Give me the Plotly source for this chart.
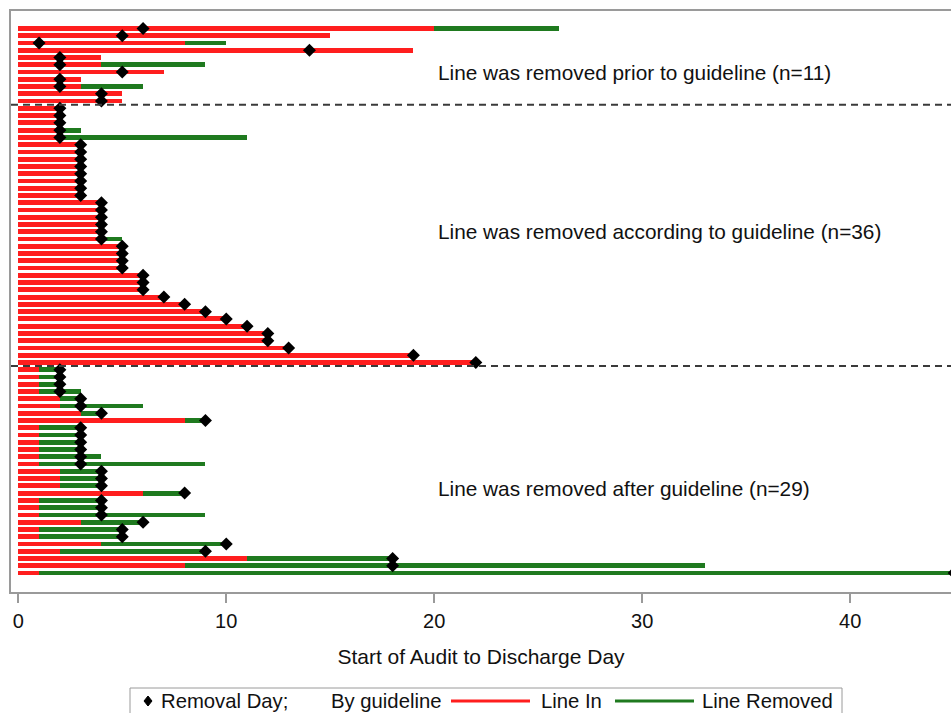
import plotly.graph_objects as go

# ---------------- data ----------------
# Each row: Line In ends at line_in day, Line Removed runs to discharge day,
# diamond = removal day by guideline.
prior_line_in   = [20, 15, 8, 19, 4, 4, 7, 3, 3, 5, 5]
prior_discharge = [26, 15, 10, 19, 4, 9, 7, 3, 6, 5, 5]
prior_guideline = [6, 5, 1, 14, 2, 2, 5, 2, 2, 4, 4]

accord_line_in   = [2, 2, 2, 2, 2, 3, 3, 3, 3, 3, 3, 3, 3, 4, 4, 4, 4, 4, 4,
                    5, 5, 5, 5, 6, 6, 6, 7, 8, 9, 10, 11, 12, 12, 13, 19, 22]
accord_discharge = [2, 2, 2, 3, 11, 3, 3, 3, 3, 3, 3, 3, 3, 4, 4, 4, 4, 4, 5,
                    5, 5, 5, 5, 6, 6, 6, 7, 8, 9, 10, 11, 12, 12, 13, 19, 22]
accord_guideline = [2, 2, 2, 2, 2, 3, 3, 3, 3, 3, 3, 3, 3, 4, 4, 4, 4, 4, 4,
                    5, 5, 5, 5, 6, 6, 6, 7, 8, 9, 10, 11, 12, 12, 13, 19, 22]

after_line_in   = [1, 1, 1, 1, 2, 2, 3, 8, 1, 1, 1, 1, 1, 1, 2, 2, 2, 6, 1, 1,
                   1, 3, 1, 1, 4, 2, 11, 8, 1]
after_discharge = [2, 2, 2, 3, 3, 6, 4, 9, 3, 3, 3, 3, 4, 9, 4, 4, 4, 8, 4, 4,
                   9, 6, 5, 5, 10, 9, 18, 33, 45]
after_guideline = [2, 2, 2, 2, 3, 3, 4, 9, 3, 3, 3, 3, 3, 3, 4, 4, 4, 8, 4, 4,
                   4, 6, 5, 5, 10, 9, 18, 18, 45]

section_labels = ["Line was removed prior to guideline (n=11)",
                  "Line was removed according to guideline (n=36)",
                  "Line was removed after guideline (n=29)"]
x_ticks = [0, 10, 20, 30, 40]
legend_labels = ["Removal Day;", "By guideline", "Line In", "Line Removed"]

line_in = prior_line_in + accord_line_in + after_line_in
discharge = prior_discharge + accord_discharge + after_discharge
guideline = prior_guideline + accord_guideline + after_guideline
rows = list(range(len(line_in)))
n_prior, n_accord = len(prior_line_in), len(accord_line_in)

RED = "#FF1E1E"
GREEN = "#1F7A1F"
FONT = "Liberation Sans, Arial, sans-serif"
TXT = "#111111"

fig = go.Figure()

# Line In (red) bars
fig.add_trace(go.Bar(
    y=rows, x=line_in, base=[0] * len(rows), orientation="h",
    width=0.66, marker=dict(color=RED, line=dict(width=0)),
    name="Line In", showlegend=False))

# Line Removed (green) bars
g_rows = [r for r in rows if discharge[r] > line_in[r]]
fig.add_trace(go.Bar(
    y=g_rows, x=[discharge[r] - line_in[r] for r in g_rows],
    base=[line_in[r] for r in g_rows], orientation="h",
    width=0.66, marker=dict(color=GREEN, line=dict(width=0)),
    name="Line Removed", showlegend=False))

# Removal day by guideline (diamonds)
fig.add_trace(go.Scatter(
    x=guideline, y=rows, mode="markers",
    marker=dict(symbol="diamond", size=10, color="black"),
    name="Removal Day; By guideline", showlegend=False))

# Dashed separators between the groups
for yb in [n_prior - 0.5, n_prior + n_accord - 0.5]:
    fig.add_shape(type="line", xref="paper", x0=0, x1=1, yref="y", y0=yb, y1=yb,
                  line=dict(color="#3a3a3a", width=2, dash="7px,5px"))

# Section labels
label_rows = [6.1, 28.0, 63.3]
for txt, yr in zip(section_labels, label_rows):
    fig.add_annotation(x=20.1, y=yr, xref="x", yref="y", text=txt,
                       showarrow=False, xanchor="left", yanchor="middle",
                       font=dict(family=FONT, size=20.8, color=TXT))

# ---------------- layout ----------------
W, H = 951, 713
ML, MR, MT, MB = 11, 0, 11, 121
PW, PH = W - ML - MR, H - MT - MB

def px(xp):
    return (xp - ML) / PW

def py(yp):
    return (H - MB - yp) / PH

# manual legend (bottom, partly cut by the window as in the reference)
fig.add_shape(type="rect", xref="paper", yref="paper",
              x0=px(130), x1=px(842), y0=py(688), y1=py(730),
              line=dict(color="#9a9a9a", width=1), fillcolor="white")
ly = py(701)
fig.add_shape(type="path", xref="paper", yref="paper",
              xsizemode="pixel", ysizemode="pixel",
              xanchor=px(148), yanchor=ly,
              path="M0,5 L4,0 L0,-5 L-4,0 Z",
              fillcolor="black", line=dict(color="black", width=1))
fig.add_shape(type="line", xref="paper", yref="paper",
              x0=px(451), x1=px(530), y0=ly, y1=ly,
              line=dict(color=RED, width=3))
fig.add_shape(type="line", xref="paper", yref="paper",
              x0=px(615), x1=px(694), y0=ly, y1=ly,
              line=dict(color=GREEN, width=3))
for txt, xp in zip(legend_labels, [159, 329, 539, 700]):
    fig.add_annotation(x=px(xp), y=ly, xref="paper", yref="paper", text=txt,
                       showarrow=False, xanchor="left", yanchor="middle",
                       font=dict(family=FONT, size=20.3, color=TXT))

fig.update_layout(
    width=W, height=H,
    margin=dict(l=ML, r=MR, t=MT, b=MB, pad=0),
    paper_bgcolor="white", plot_bgcolor="white",
    barmode="overlay", bargap=0,
    font=dict(family=FONT, size=20, color=TXT),
    xaxis=dict(range=[-0.35, 44.85], tickvals=x_ticks,
               ticks="outside", ticklen=9, tickwidth=1.5, tickcolor="#9a9a9a",
               showline=True, linecolor="#9a9a9a", linewidth=2, mirror=True,
               showgrid=False, zeroline=False,
               tickfont=dict(family=FONT, size=20, color=TXT),
               ticklabelstandoff=1,
               title=dict(text="Start of Audit to Discharge Day", standoff=18,
                          font=dict(family=FONT, size=21, color=TXT))),
    yaxis=dict(range=[77.62, -2.41], showticklabels=False, ticks="",
               showline=True, linecolor="#9a9a9a", linewidth=2, mirror=False,
               showgrid=False, zeroline=False),
)

fig.write_html("out.html")
